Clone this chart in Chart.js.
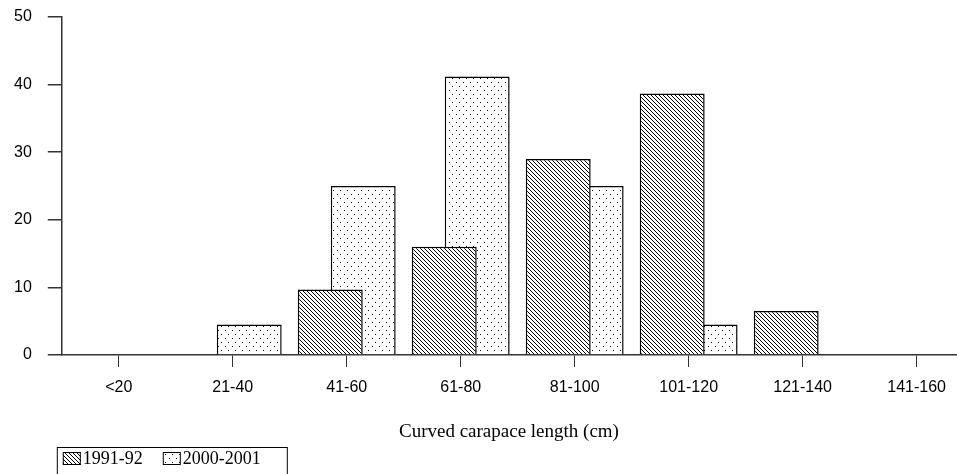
<!DOCTYPE html>
<html>
<head>
<meta charset="utf-8">
<script src="https://cdn.jsdelivr.net/npm/chart.js@4/dist/chart.umd.min.js"></script>
<style>
html,body{margin:0;padding:0;background:#fff;overflow:hidden;}
#wrap{width:957px;height:474px;}
</style>
</head>
<body>
<div id="wrap"><canvas id="c" width="957" height="474"></canvas></div>
<script>
const categories = ['<20', '21-40', '41-60', '61-80', '81-100', '101-120', '121-140', '141-160'];
const series1991 = [0, 0, 9.7, 16, 29, 38.7, 6.5, 0];
const series2000 = [0, 4.5, 25, 41.2, 25, 4.5, 0, 0];
const seriesLabels = ['1991-92', '2000-2001'];
const yTickValues = [0, 10, 20, 30, 40, 50];
const xAxisTitle = 'Curved carapace length (cm)';

function hatchPattern() {
  const c = document.createElement('canvas');
  c.width = 4; c.height = 4;
  const g = c.getContext('2d');
  g.fillStyle = '#fff'; g.fillRect(0, 0, 4, 4);
  g.strokeStyle = '#000'; g.lineWidth = 1;
  g.beginPath();
  g.moveTo(-1, -1); g.lineTo(5, 5);
  g.moveTo(-1, 3); g.lineTo(1, 5);
  g.moveTo(3, -1); g.lineTo(5, 1);
  g.stroke();
  return g.createPattern(c, 'repeat');
}
function dotPattern() {
  const c = document.createElement('canvas');
  c.width = 7; c.height = 8;
  const g = c.getContext('2d');
  g.fillStyle = '#fff'; g.fillRect(0, 0, 7, 8);
  g.fillStyle = '#000';
  g.fillRect(1, 2, 1, 1);
  g.fillRect(4, 6, 1, 1);
  return g.createPattern(c, 'repeat');
}
const fills = [hatchPattern(), dotPattern()];

const legendPlugin = {
  id: 'boxLegend',
  afterDraw(chart) {
    const ctx = chart.ctx;
    const x0 = chart.chartArea.left - 5;
    const y0 = 447;
    ctx.save();
    ctx.strokeStyle = '#000';
    ctx.lineWidth = 1;
    ctx.strokeRect(x0 + 0.5, y0 + 0.5, 230, 40);
    ctx.font = '18px "Liberation Serif", serif';
    ctx.textBaseline = 'middle';
    let x = x0 + 6;
    seriesLabels.forEach((lab, i) => {
      ctx.fillStyle = fills[i];
      ctx.fillRect(x, y0 + 5, 18, 13);
      ctx.strokeRect(x + 0.5, y0 + 5.5, 17, 12);
      ctx.fillStyle = '#000';
      ctx.fillText(lab, x + 20, y0 + 12.5);
      x += 20 + ctx.measureText(lab).width + 20;
    });
    ctx.restore();
  }
};

const tickFont = {family: '"Liberation Sans", Arial, sans-serif', size: 16};

new Chart(document.getElementById('c'), {
  type: 'bar',
  data: {
    datasets: [
      {
        label: seriesLabels[0],
        data: categories.map((c, i) => ({x: i, y: series1991[i]})),
        backgroundColor: fills[0],
        borderColor: '#000',
        borderWidth: 1.5,
        categoryPercentage: 0.578,
        barPercentage: 1.97
      },
      {
        label: seriesLabels[1],
        data: categories.map((c, i) => ({x: i, y: series2000[i]})),
        backgroundColor: fills[1],
        borderColor: '#000',
        borderWidth: 1.5,
        categoryPercentage: 0.578,
        barPercentage: 1.97
      }
    ]
  },
  options: {
    responsive: false,
    animation: false,
    devicePixelRatio: 1,
    layout: {padding: {top: 17, left: -2, right: 0, bottom: 31}},
    plugins: {
      legend: {display: false},
      tooltip: {enabled: false}
    },
    scales: {
      x: {
        type: 'linear',
        offset: false,
        min: -0.5,
        max: 7.346,
        afterBuildTicks: axis => { axis.ticks = categories.map((c, i) => ({value: i})); },
        ticks: {
          color: '#000',
          font: tickFont,
          padding: 11,
          autoSkip: false,
          maxRotation: 0,
          callback: v => categories[v] ?? ''
        },
        title: {
          display: true,
          text: xAxisTitle,
          color: '#000',
          font: {family: '"Liberation Serif", "Times New Roman", serif', size: 19, weight: 'normal'},
          padding: {top: 12, bottom: 0}
        },
        grid: {offset: false, drawOnChartArea: false, drawTicks: true, tickLength: 12, color: '#333', lineWidth: 1},
        border: {display: true, color: '#333', width: 1.5}
      },
      y: {
        min: 0,
        max: 50,
        afterBuildTicks: axis => { axis.ticks = yTickValues.map(v => ({value: v})); },
        afterFit: axis => { axis.paddingTop = 0; },
        ticks: {color: '#000', font: tickFont, padding: 16},
        grid: {drawOnChartArea: false, drawTicks: true, tickLength: 14, color: '#333', lineWidth: 1.5},
        border: {display: true, color: '#333', width: 1.5}
      }
    }
  },
  plugins: [legendPlugin]
});
</script>
</body>
</html>
